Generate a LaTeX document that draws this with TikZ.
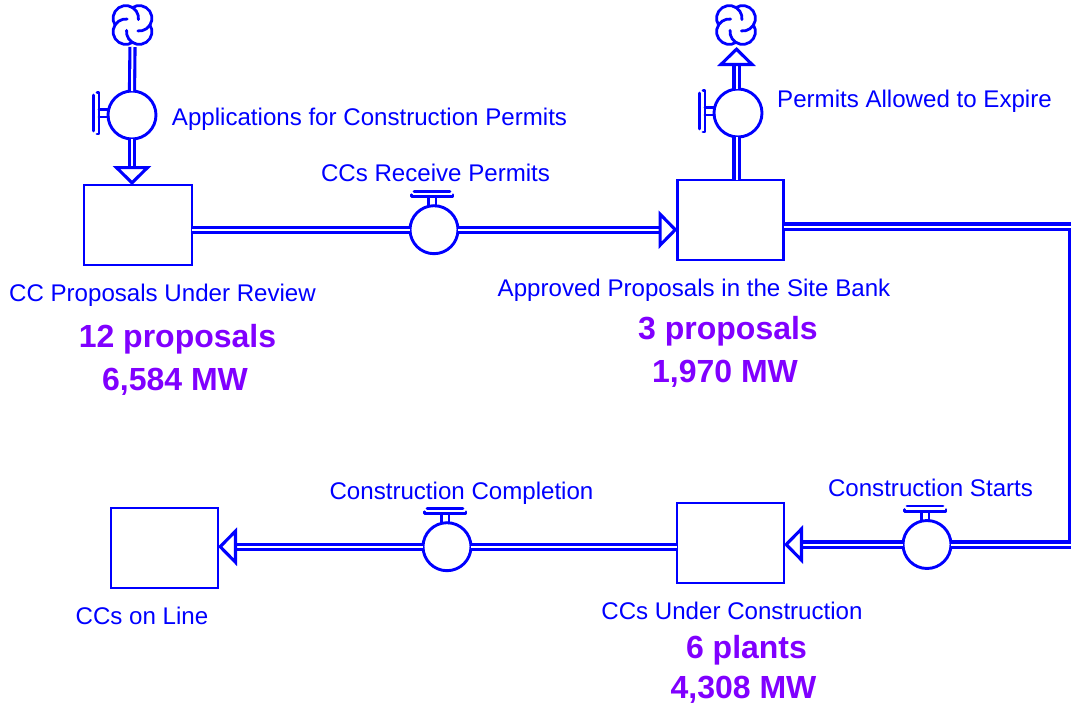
\documentclass[tikz,border=0pt]{standalone}
\usepackage{fontspec}
\setmainfont{Liberation Sans}
\usetikzlibrary{arrows.meta,calc}
\definecolor{sdblue}{RGB}{0,0,255}
\definecolor{sdpurple}{RGB}{128,0,255}
\tikzset{
  line/.style={draw=sdblue,line width=2.8pt,line cap=round,line join=round},
  stockbox/.style={draw=sdblue,line width=2.6pt,rectangle,minimum width=108pt,minimum height=80pt,inner sep=0pt,outer sep=0pt},
  valve/.style={draw=sdblue,line width=2.9pt,circle,fill=white,minimum size=48pt,inner sep=0pt,outer sep=0pt},
  cloudspot/.style={circle,minimum size=39pt,inner sep=0pt,outer sep=2.5pt},
  pipe/.style={draw=sdblue,line width=3.1pt,double=white,double distance=2pt,line join=miter},
  pipehead/.style={pipe,-{Triangle[open,length=19pt,width=38pt,line width=3.1pt,color=sdblue]}},
  lab/.style={text=sdblue,font=\fontsize{24.1}{26}\selectfont,inner sep=0pt,anchor=base,yshift=-8.5pt},
  big/.style={text=sdpurple,font=\fontsize{32}{34}\selectfont\bfseries,inner sep=0pt,anchor=base,yshift=-11.5pt}
}
\newcommand{\handlepath}{%
  \draw[line] (-20,-38.5) -- (16,-38.5);
  \draw[line] (-22.5,-35) -- (-22.5,-33) -- (19,-33) -- (19,-35);
  \draw[line] (-5.5,-33) -- (-5.5,-23.5);
  \draw[line] (2,-33) -- (2,-23.5);
}
\newcommand{\tophandle}[1]{\begin{scope}[shift={(#1.center)}]\handlepath\end{scope}}
\newcommand{\lefthandle}[1]{\begin{scope}[shift={(#1.center)},cm={0,-1,-1,0,(0,0)}]\handlepath\end{scope}}
\newcommand{\cloudlobes}[1]{%
  \begin{scope}[shift={(#1.center)}]
    \foreach \cx/\cy/\s in {-6.7/6.7/-56, 6.7/6.7/34, 6.7/-6.7/124, -6.7/-6.7/214}{
      \draw[line] ($(\cx pt,-\cy pt)+(\s:12.7pt)$) arc[start angle=\s,delta angle=-220,radius=12.7pt];
    }
  \end{scope}}
\begin{document}
\begin{tikzpicture}[x=1pt,y=-1pt]
\useasboundingbox (0,0) rectangle (1071,704);
% stocks
\node[stockbox] (s1) at (138,225) {};
\node[stockbox,minimum width=106pt] (s2) at (730.5,220) {};
\node[stockbox,minimum width=107pt] (s3) at (730.5,543) {};
\node[stockbox,minimum width=107pt] (s4) at (164.5,548) {};
% clouds
\node[cloudspot] (c1) at (132.5,25) {};
\node[cloudspot] (c2) at (736,25) {};
% valves
\node[valve] (v1) at (132,115) {};
\node[valve] (v2) at (434,229.7) {};
\node[valve] (v3) at (738,113) {};
\node[valve] (v4) at (927,544.5) {};
\node[valve] (v5) at (447,546.7) {};
\coordinate (corner) at (1072.5,226.5);
% pipes
\draw[pipe] (c1.south) -- (v1.north);
\draw[pipehead] (v1.south) -- (v1.south |- s1.north);
\draw[pipe] (s1.east |- v2.west) -- (v2.west);
\draw[pipehead] (v2.east) -- (v2.east -| s2.west);
\draw[pipe] ([xshift=-1.5pt]v3.south) -- ([xshift=-1.5pt]v3.south |- s2.north);
\draw[pipehead] ([xshift=-1.5pt]v3.north) -- ([xshift=-1.5pt]v3.north |- c2.south);
\draw[pipe] (s2.east |- corner) -- (corner) -- (corner |- v4.east) -- (v4.east);
\draw[pipehead] (v4.west) -- (v4.west -| s3.east);
\draw[pipe] (v5.east) -- (v5.east -| s3.west);
\draw[pipehead] (v5.west) -- (v5.west -| s4.east);
% handles, clouds
\tophandle{v2}
\tophandle{v4}
\tophandle{v5}
\lefthandle{v1}
\lefthandle{v3}
\cloudlobes{c1}
\cloudlobes{c2}
% labels
\node[lab] (t1) at (369.5,117) {Applications for Construction Permits};
\node[lab] (t2) at (435.5,173) {CCs Receive Permits};
\node[lab] (t3) at (914.5,99) {Permits Allowed to Expire};
\node[lab] (t4) at (162.5,293) {CC Proposals Under Review};
\node[lab] (t5) at (694,288) {Approved Proposals in the Site Bank};
\node[lab] (t6) at (930.5,488) {Construction Starts};
\node[lab] (t7) at (461.5,491) {Construction Completion};
\node[lab] (t8) at (732,611) {CCs Under Construction};
\node[lab] (t9) at (142,616) {CCs on Line};
\node[big] (n1) at (177.5,336) {12 proposals};
\node[big] (n2) at (175,379) {6,584 MW};
\node[big] (n3) at (728,328) {3 proposals};
\node[big] (n4) at (725,371) {1,970 MW};
\node[big] (n5) at (746.5,647) {6 plants};
\node[big] (n6) at (743.5,687) {4,308 MW};
\end{tikzpicture}
\end{document}
